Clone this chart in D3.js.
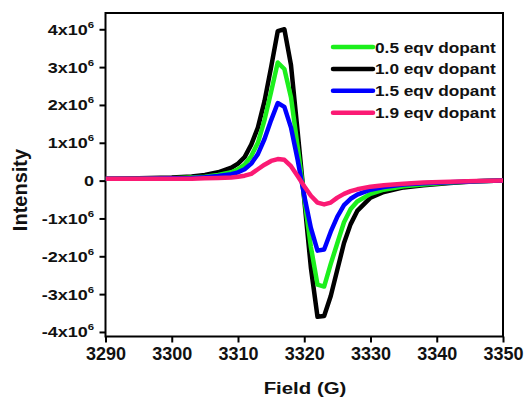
<!DOCTYPE html>
<html>
<head>
<meta charset="utf-8">
<script src="https://cdn.jsdelivr.net/npm/d3@7/dist/d3.min.js"></script>
<style>
  body { margin: 0; background: #fff; }
  svg { font-family: "Liberation Sans", Arial, sans-serif; font-weight: bold; }
</style>
</head>
<body>
<div id="chart"></div>
<script>
// field (G) and intensities in units of 10^6
const field = [3290, 3295, 3300, 3303, 3305, 3307, 3309, 3310, 3311, 3312, 3313, 3314, 3315, 3316, 3317,
  3318, 3319, 3320, 3321, 3322, 3323, 3324, 3325, 3326, 3327, 3328, 3330, 3332, 3335, 3338, 3342, 3346, 3350]

const dop05 = [0.05, 0.05, 0.06, 0.08, 0.1, 0.15, 0.22, 0.3, 0.42, 0.65, 1.0, 1.6, 2.35, 3.12, 2.95,
  2.2, 0.9, -0.45, -1.75, -2.75, -2.8, -2.2, -1.65, -1.1, -0.75, -0.55, -0.35, -0.24, -0.15, -0.1, -0.05, -0.02, 0]
const dop10 = [0.05, 0.06, 0.08, 0.11, 0.15, 0.22, 0.34, 0.45, 0.62, 0.95, 1.4, 2.1, 3.0, 3.95, 4.0,
  3.05, 1.3, -0.5, -2.3, -3.6, -3.58, -3.05, -2.35, -1.65, -1.15, -0.8, -0.45, -0.3, -0.18, -0.12, -0.06, -0.02, 0]
const dop15 = [0.05, 0.05, 0.06, 0.07, 0.09, 0.12, 0.17, 0.22, 0.3, 0.45, 0.7, 1.1, 1.6, 2.05, 1.95,
  1.4, 0.55, -0.4, -1.25, -1.85, -1.82, -1.35, -0.95, -0.65, -0.48, -0.37, -0.24, -0.17, -0.1, -0.07, -0.04, -0.02, 0]
const dop19 = [0.05, 0.05, 0.05, 0.05, 0.06, 0.07, 0.08, 0.1, 0.13, 0.18, 0.3, 0.42, 0.52, 0.57, 0.55,
  0.38, 0.12, -0.15, -0.4, -0.58, -0.63, -0.58, -0.45, -0.35, -0.28, -0.23, -0.16, -0.12, -0.08, -0.05, -0.03, -0.01, 0]

const xTicks = [3290, 3300, 3310, 3320, 3330, 3340, 3350]
const yTicks = [-4, -3, -2, -1, 0, 1, 2, 3, 4]

const seriesNames = ['0.5 eqv dopant', '1.0 eqv dopant', '1.5 eqv dopant', '1.9 eqv dopant']
const seriesData = [dop05, dop10, dop15, dop19]
const colors = ['#1cef1c', '#000000', '#0000ff', '#fb1a74']
const drawOrder = [1, 0, 2, 3]

const width = 526, height = 399
const mLeft = 105.5, mRight = 503, mTop = 13, mBottom = 336.5

const x = d3.scaleLinear().domain([3290, 3350]).range([mLeft, mRight])
const y = d3.scaleLinear().domain([-4.12, 4.43]).range([mBottom, mTop])

const svg = d3.select('#chart').append('svg')
  .attr('width', width).attr('height', height)

// frame
svg.append('rect')
  .attr('x', mLeft).attr('y', mTop)
  .attr('width', mRight - mLeft).attr('height', mBottom - mTop)
  .style('fill', 'none').style('stroke', '#000').style('stroke-width', 2)

// x axis
const xAxis = svg.append('g')
  .attr('transform', 'translate(0,' + mBottom + ')')
  .call(d3.axisBottom(x).tickValues(xTicks).tickSize(6).tickPadding(5).tickFormat(d3.format('d')))
xAxis.select('.domain').remove()
xAxis.selectAll('line').style('stroke-width', 2)
xAxis.selectAll('text').style('font-size', '18px').style('font-weight', 'bold')
  .style('font-family', '"Liberation Sans", Arial, sans-serif').attr('fill', '#111')

// y axis ticks, labels drawn by hand for the x10^6 look
const yAxis = svg.append('g')
  .attr('transform', 'translate(' + mLeft + ',0)')
  .call(d3.axisLeft(y).tickValues(yTicks).tickSize(6).tickFormat(''))
yAxis.select('.domain').remove()
yAxis.selectAll('line').style('stroke-width', 2)

const yLab = svg.append('g').selectAll('text')
  .data(yTicks)
  .enter()
  .append('text')
  .attr('transform', d => 'translate(94,' + (y(d) + 5.5) + ') scale(1.2,1)')
  .attr('text-anchor', 'end')
  .style('font-size', '15px')
  .attr('fill', '#111')
yLab.each(function (d) {
  const t = d3.select(this)
  if (d === 0) { t.text('0'); return }
  t.append('tspan').text(d + 'x10')
  t.append('tspan').attr('dy', -7).style('font-size', '9.5px').text('6')
})

// axis titles
svg.append('text')
  .attr('transform', 'translate(305,394) scale(1.2,1)')
  .attr('text-anchor', 'middle')
  .style('font-size', '17px')
  .attr('fill', '#111')
  .text('Field (G)')

svg.append('text')
  .attr('transform', 'translate(27,190) rotate(-90)')
  .attr('text-anchor', 'middle')
  .style('font-size', '20px')
  .attr('fill', '#111')
  .text('Intensity')

// curves
const line = d3.line()
  .x((d, i) => x(field[i]))
  .y(d => y(d))

svg.append('defs').append('clipPath').attr('id', 'clip')
  .append('rect').attr('x', mLeft).attr('y', mTop).attr('width', mRight - mLeft).attr('height', mBottom - mTop)

svg.append('g').attr('clip-path', 'url(#clip)')
  .selectAll('path')
  .data(drawOrder)
  .enter()
  .append('path')
  .attr('d', i => line(seriesData[i]))
  .style('fill', 'none')
  .style('stroke', i => colors[i])
  .style('stroke-width', 4.5)
  .style('stroke-linejoin', 'round')

// legend
const leg = svg.append('g')
  .selectAll('g')
  .data(seriesNames)
  .enter()
  .append('g')
  .attr('transform', (d, i) => 'translate(0,' + (47 + i * 21.9) + ')')

leg.append('line')
  .attr('x1', 333).attr('x2', 373)
  .style('stroke', (d, i) => colors[i])
  .style('stroke-width', 4.5)
  .style('stroke-linecap', 'round')

leg.append('text')
  .attr('transform', 'translate(375,5.5) scale(1.15,1)')
  .style('font-size', '15px')
  .attr('fill', '#111')
  .text(d => d)
</script>
</body>
</html>
